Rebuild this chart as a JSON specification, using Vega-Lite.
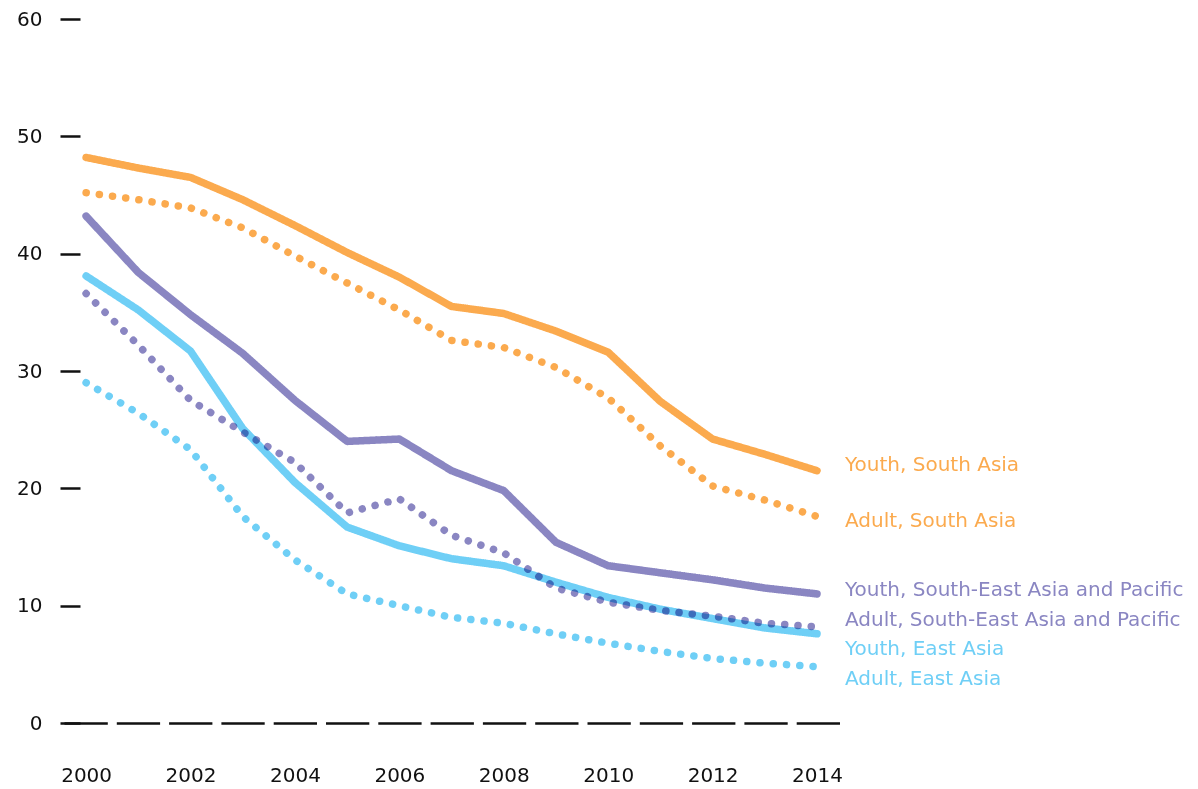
{
  "$schema": "https://vega.github.io/schema/vega-lite/v6.json",
  "width": 780,
  "height": 704,
  "autosize": {"type": "none"},
  "padding": {"left": 60, "top": 19, "right": 358, "bottom": 66},
  "background": "white",
  "config": {"view": {"stroke": null}, "font": "DejaVu Sans"},
  "data": {"values": [
    {"series": "Youth, South Asia", "region": "South Asia", "age": "Youth", "year": 2000, "value": 48.2},
    {"series": "Youth, South Asia", "region": "South Asia", "age": "Youth", "year": 2001, "value": 47.3},
    {"series": "Youth, South Asia", "region": "South Asia", "age": "Youth", "year": 2002, "value": 46.5},
    {"series": "Youth, South Asia", "region": "South Asia", "age": "Youth", "year": 2003, "value": 44.6},
    {"series": "Youth, South Asia", "region": "South Asia", "age": "Youth", "year": 2004, "value": 42.4},
    {"series": "Youth, South Asia", "region": "South Asia", "age": "Youth", "year": 2005, "value": 40.1},
    {"series": "Youth, South Asia", "region": "South Asia", "age": "Youth", "year": 2006, "value": 38.0},
    {"series": "Youth, South Asia", "region": "South Asia", "age": "Youth", "year": 2007, "value": 35.5},
    {"series": "Youth, South Asia", "region": "South Asia", "age": "Youth", "year": 2008, "value": 34.9},
    {"series": "Youth, South Asia", "region": "South Asia", "age": "Youth", "year": 2009, "value": 33.4},
    {"series": "Youth, South Asia", "region": "South Asia", "age": "Youth", "year": 2010, "value": 31.6},
    {"series": "Youth, South Asia", "region": "South Asia", "age": "Youth", "year": 2011, "value": 27.4},
    {"series": "Youth, South Asia", "region": "South Asia", "age": "Youth", "year": 2012, "value": 24.2},
    {"series": "Youth, South Asia", "region": "South Asia", "age": "Youth", "year": 2013, "value": 22.9},
    {"series": "Youth, South Asia", "region": "South Asia", "age": "Youth", "year": 2014, "value": 21.5},
    {"series": "Adult, South Asia", "region": "South Asia", "age": "Adult", "year": 2000, "value": 45.2},
    {"series": "Adult, South Asia", "region": "South Asia", "age": "Adult", "year": 2001, "value": 44.6},
    {"series": "Adult, South Asia", "region": "South Asia", "age": "Adult", "year": 2002, "value": 43.9},
    {"series": "Adult, South Asia", "region": "South Asia", "age": "Adult", "year": 2003, "value": 42.2},
    {"series": "Adult, South Asia", "region": "South Asia", "age": "Adult", "year": 2004, "value": 39.8},
    {"series": "Adult, South Asia", "region": "South Asia", "age": "Adult", "year": 2005, "value": 37.5},
    {"series": "Adult, South Asia", "region": "South Asia", "age": "Adult", "year": 2006, "value": 35.2},
    {"series": "Adult, South Asia", "region": "South Asia", "age": "Adult", "year": 2007, "value": 32.6},
    {"series": "Adult, South Asia", "region": "South Asia", "age": "Adult", "year": 2008, "value": 32.0},
    {"series": "Adult, South Asia", "region": "South Asia", "age": "Adult", "year": 2009, "value": 30.3},
    {"series": "Adult, South Asia", "region": "South Asia", "age": "Adult", "year": 2010, "value": 27.7},
    {"series": "Adult, South Asia", "region": "South Asia", "age": "Adult", "year": 2011, "value": 23.6},
    {"series": "Adult, South Asia", "region": "South Asia", "age": "Adult", "year": 2012, "value": 20.2},
    {"series": "Adult, South Asia", "region": "South Asia", "age": "Adult", "year": 2013, "value": 19.0},
    {"series": "Adult, South Asia", "region": "South Asia", "age": "Adult", "year": 2014, "value": 17.6},
    {"series": "Youth, South-East Asia and Pacific", "region": "South-East Asia and Pacific", "age": "Youth", "year": 2000, "value": 43.2},
    {"series": "Youth, South-East Asia and Pacific", "region": "South-East Asia and Pacific", "age": "Youth", "year": 2001, "value": 38.4},
    {"series": "Youth, South-East Asia and Pacific", "region": "South-East Asia and Pacific", "age": "Youth", "year": 2002, "value": 34.8},
    {"series": "Youth, South-East Asia and Pacific", "region": "South-East Asia and Pacific", "age": "Youth", "year": 2003, "value": 31.5},
    {"series": "Youth, South-East Asia and Pacific", "region": "South-East Asia and Pacific", "age": "Youth", "year": 2004, "value": 27.5},
    {"series": "Youth, South-East Asia and Pacific", "region": "South-East Asia and Pacific", "age": "Youth", "year": 2005, "value": 24.0},
    {"series": "Youth, South-East Asia and Pacific", "region": "South-East Asia and Pacific", "age": "Youth", "year": 2006, "value": 24.2},
    {"series": "Youth, South-East Asia and Pacific", "region": "South-East Asia and Pacific", "age": "Youth", "year": 2007, "value": 21.5},
    {"series": "Youth, South-East Asia and Pacific", "region": "South-East Asia and Pacific", "age": "Youth", "year": 2008, "value": 19.8},
    {"series": "Youth, South-East Asia and Pacific", "region": "South-East Asia and Pacific", "age": "Youth", "year": 2009, "value": 15.4},
    {"series": "Youth, South-East Asia and Pacific", "region": "South-East Asia and Pacific", "age": "Youth", "year": 2010, "value": 13.4},
    {"series": "Youth, South-East Asia and Pacific", "region": "South-East Asia and Pacific", "age": "Youth", "year": 2011, "value": 12.8},
    {"series": "Youth, South-East Asia and Pacific", "region": "South-East Asia and Pacific", "age": "Youth", "year": 2012, "value": 12.2},
    {"series": "Youth, South-East Asia and Pacific", "region": "South-East Asia and Pacific", "age": "Youth", "year": 2013, "value": 11.5},
    {"series": "Youth, South-East Asia and Pacific", "region": "South-East Asia and Pacific", "age": "Youth", "year": 2014, "value": 11.0},
    {"series": "Adult, South-East Asia and Pacific", "region": "South-East Asia and Pacific", "age": "Adult", "year": 2000, "value": 36.6},
    {"series": "Adult, South-East Asia and Pacific", "region": "South-East Asia and Pacific", "age": "Adult", "year": 2001, "value": 32.2},
    {"series": "Adult, South-East Asia and Pacific", "region": "South-East Asia and Pacific", "age": "Adult", "year": 2002, "value": 27.5},
    {"series": "Adult, South-East Asia and Pacific", "region": "South-East Asia and Pacific", "age": "Adult", "year": 2003, "value": 24.8},
    {"series": "Adult, South-East Asia and Pacific", "region": "South-East Asia and Pacific", "age": "Adult", "year": 2004, "value": 22.2},
    {"series": "Adult, South-East Asia and Pacific", "region": "South-East Asia and Pacific", "age": "Adult", "year": 2005, "value": 17.9},
    {"series": "Adult, South-East Asia and Pacific", "region": "South-East Asia and Pacific", "age": "Adult", "year": 2006, "value": 19.1},
    {"series": "Adult, South-East Asia and Pacific", "region": "South-East Asia and Pacific", "age": "Adult", "year": 2007, "value": 16.0},
    {"series": "Adult, South-East Asia and Pacific", "region": "South-East Asia and Pacific", "age": "Adult", "year": 2008, "value": 14.5},
    {"series": "Adult, South-East Asia and Pacific", "region": "South-East Asia and Pacific", "age": "Adult", "year": 2009, "value": 11.5},
    {"series": "Adult, South-East Asia and Pacific", "region": "South-East Asia and Pacific", "age": "Adult", "year": 2010, "value": 10.3},
    {"series": "Adult, South-East Asia and Pacific", "region": "South-East Asia and Pacific", "age": "Adult", "year": 2011, "value": 9.6},
    {"series": "Adult, South-East Asia and Pacific", "region": "South-East Asia and Pacific", "age": "Adult", "year": 2012, "value": 9.1},
    {"series": "Adult, South-East Asia and Pacific", "region": "South-East Asia and Pacific", "age": "Adult", "year": 2013, "value": 8.5},
    {"series": "Adult, South-East Asia and Pacific", "region": "South-East Asia and Pacific", "age": "Adult", "year": 2014, "value": 8.2},
    {"series": "Youth, East Asia", "region": "East Asia", "age": "Youth", "year": 2000, "value": 38.1},
    {"series": "Youth, East Asia", "region": "East Asia", "age": "Youth", "year": 2001, "value": 35.2},
    {"series": "Youth, East Asia", "region": "East Asia", "age": "Youth", "year": 2002, "value": 31.7},
    {"series": "Youth, East Asia", "region": "East Asia", "age": "Youth", "year": 2003, "value": 25.1},
    {"series": "Youth, East Asia", "region": "East Asia", "age": "Youth", "year": 2004, "value": 20.5},
    {"series": "Youth, East Asia", "region": "East Asia", "age": "Youth", "year": 2005, "value": 16.7},
    {"series": "Youth, East Asia", "region": "East Asia", "age": "Youth", "year": 2006, "value": 15.1},
    {"series": "Youth, East Asia", "region": "East Asia", "age": "Youth", "year": 2007, "value": 14.0},
    {"series": "Youth, East Asia", "region": "East Asia", "age": "Youth", "year": 2008, "value": 13.4},
    {"series": "Youth, East Asia", "region": "East Asia", "age": "Youth", "year": 2009, "value": 12.0},
    {"series": "Youth, East Asia", "region": "East Asia", "age": "Youth", "year": 2010, "value": 10.7},
    {"series": "Youth, East Asia", "region": "East Asia", "age": "Youth", "year": 2011, "value": 9.7},
    {"series": "Youth, East Asia", "region": "East Asia", "age": "Youth", "year": 2012, "value": 8.9},
    {"series": "Youth, East Asia", "region": "East Asia", "age": "Youth", "year": 2013, "value": 8.1},
    {"series": "Youth, East Asia", "region": "East Asia", "age": "Youth", "year": 2014, "value": 7.6},
    {"series": "Adult, East Asia", "region": "East Asia", "age": "Adult", "year": 2000, "value": 29.0},
    {"series": "Adult, East Asia", "region": "East Asia", "age": "Adult", "year": 2001, "value": 26.4},
    {"series": "Adult, East Asia", "region": "East Asia", "age": "Adult", "year": 2002, "value": 23.3},
    {"series": "Adult, East Asia", "region": "East Asia", "age": "Adult", "year": 2003, "value": 17.6},
    {"series": "Adult, East Asia", "region": "East Asia", "age": "Adult", "year": 2004, "value": 13.9},
    {"series": "Adult, East Asia", "region": "East Asia", "age": "Adult", "year": 2005, "value": 11.0},
    {"series": "Adult, East Asia", "region": "East Asia", "age": "Adult", "year": 2006, "value": 10.0},
    {"series": "Adult, East Asia", "region": "East Asia", "age": "Adult", "year": 2007, "value": 9.0},
    {"series": "Adult, East Asia", "region": "East Asia", "age": "Adult", "year": 2008, "value": 8.5},
    {"series": "Adult, East Asia", "region": "East Asia", "age": "Adult", "year": 2009, "value": 7.6},
    {"series": "Adult, East Asia", "region": "East Asia", "age": "Adult", "year": 2010, "value": 6.8},
    {"series": "Adult, East Asia", "region": "East Asia", "age": "Adult", "year": 2011, "value": 6.1},
    {"series": "Adult, East Asia", "region": "East Asia", "age": "Adult", "year": 2012, "value": 5.5},
    {"series": "Adult, East Asia", "region": "East Asia", "age": "Adult", "year": 2013, "value": 5.1},
    {"series": "Adult, East Asia", "region": "East Asia", "age": "Adult", "year": 2014, "value": 4.8}
  ]},
  "encoding": {
    "x": {"field": "year", "type": "quantitative",
      "scale": {"domain": [1999.5, 2014.44], "nice": false, "zero": false},
      "axis": {"title": null, "values": [2000, 2002, 2004, 2006, 2008, 2010, 2012, 2014], "format": "d",
        "ticks": false, "grid": false, "domain": true, "domainColor": "#111", "domainWidth": 2.5,
        "domainDash": [43.3, 9], "domainDashOffset": 48.3,
        "labelFont": "DejaVu Sans", "labelFontSize": 20, "labelColor": "#111", "labelPadding": 42, "labelFlush": false}},
    "y": {"field": "value", "type": "quantitative",
      "scale": {"domain": [0, 60], "nice": false},
      "axis": {"title": null, "values": [0, 10, 20, 30, 40, 50, 60], "grid": false, "domain": false,
        "offset": -20, "ticks": true, "tickSize": 20, "tickWidth": 2.5, "tickColor": "#111",
        "labelFont": "DejaVu Sans", "labelFontSize": 20, "labelColor": "#111", "labelPadding": 18}},
    "color": {"field": "region", "type": "nominal", "legend": null,
      "scale": {"domain": ["South Asia", "South-East Asia and Pacific", "East Asia"], "range": ["#FBAA4E", "#8A86C2", "#6FCFF6"]}}
  },
  "layer": [
    {
      "mark": {"type": "line", "strokeWidth": 7.5, "strokeCap": "round", "strokeJoin": "round", "blend": "multiply"},
      "encoding": {
        "detail": {"field": "series"},
        "strokeDash": {"field": "age", "type": "nominal", "legend": null,
          "scale": {"domain": ["Youth", "Adult"], "range": [[1, 0], [0.1, 13.2]]}}
      }
    },
    {"transform": [{"filter": "datum.year == 2014 && datum.series == 'Youth, South Asia'"}],
     "mark": {"type": "text", "align": "left", "baseline": "middle", "dx": 28, "dy": -6, "fontSize": 20, "font": "DejaVu Sans"},
     "encoding": {"text": {"field": "series"}}},
    {"transform": [{"filter": "datum.year == 2014 && datum.series == 'Adult, South Asia'"}],
     "mark": {"type": "text", "align": "left", "baseline": "middle", "dx": 28, "dy": 5, "fontSize": 20, "font": "DejaVu Sans"},
     "encoding": {"text": {"field": "series"}}},
    {"transform": [{"filter": "datum.year == 2014 && datum.series == 'Youth, South-East Asia and Pacific'"}],
     "mark": {"type": "text", "align": "left", "baseline": "middle", "dx": 28, "dy": -4, "fontSize": 20, "font": "DejaVu Sans"},
     "encoding": {"text": {"field": "series"}}},
    {"transform": [{"filter": "datum.year == 2014 && datum.series == 'Adult, South-East Asia and Pacific'"}],
     "mark": {"type": "text", "align": "left", "baseline": "middle", "dx": 28, "dy": -7, "fontSize": 20, "font": "DejaVu Sans"},
     "encoding": {"text": {"field": "series"}}},
    {"transform": [{"filter": "datum.year == 2014 && datum.series == 'Youth, East Asia'"}],
     "mark": {"type": "text", "align": "left", "baseline": "middle", "dx": 28, "dy": 15, "fontSize": 20, "font": "DejaVu Sans"},
     "encoding": {"text": {"field": "series"}}},
    {"transform": [{"filter": "datum.year == 2014 && datum.series == 'Adult, East Asia'"}],
     "mark": {"type": "text", "align": "left", "baseline": "middle", "dx": 28, "dy": 12, "fontSize": 20, "font": "DejaVu Sans"},
     "encoding": {"text": {"field": "series"}}}
  ]
}
